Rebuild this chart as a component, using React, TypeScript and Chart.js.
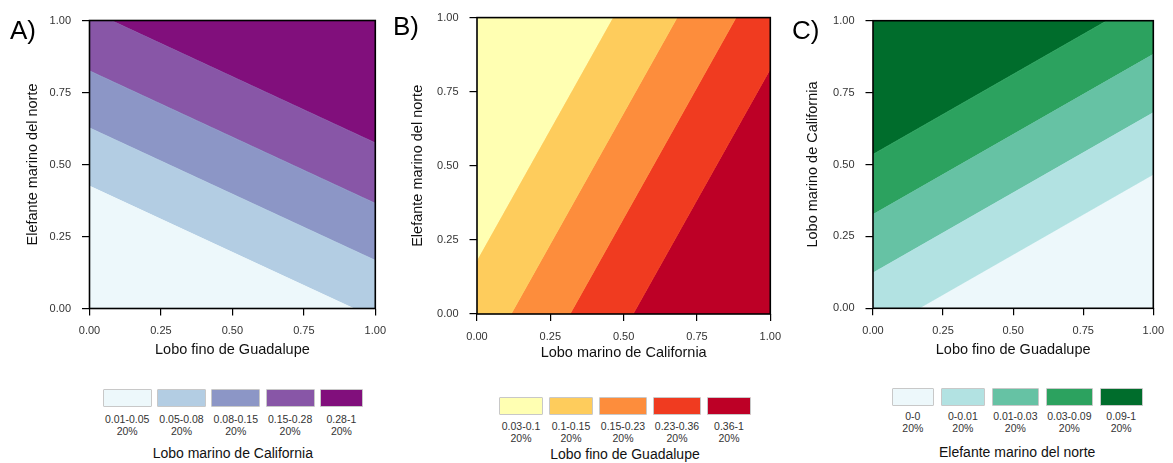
import React, { useEffect, useRef } from 'react';
import { Chart, registerables } from 'chart.js';

Chart.register(...registerables);

// ---------- shared axis ticks ----------
const tickValues = [0, 0.25, 0.5, 0.75, 1];
const tickLabels = ['0.00', '0.25', '0.50', '0.75', '1.00'];

// ---------- Panel A ----------
const aLetter = 'A)';
const aXTitle = 'Lobo fino de Guadalupe';
const aYTitle = 'Elefante marino del norte';
const aLegendTitle = 'Lobo marino de California';
const aClassLabels = ['0.01-0.05', '0.05-0.08', '0.08-0.15', '0.15-0.28', '0.28-1'];
const aClassShares = ['20%', '20%', '20%', '20%', '20%'];
const aColors = ['#edf8fb', '#b3cde3', '#8c96c6', '#8856a7', '#810f7c'];
// contour field g = gx*x + gy*y, class boundaries at these g levels
const aField = [0.46, 1];
const aBreaks = [0.425, 0.627, 0.825, 1.035];

// ---------- Panel B ----------
const bLetter = 'B)';
const bXTitle = 'Lobo marino de California';
const bYTitle = 'Elefante marino del norte';
const bLegendTitle = 'Lobo fino de Guadalupe';
const bClassLabels = ['0.03-0.1', '0.1-0.15', '0.15-0.23', '0.23-0.36', '0.36-1'];
const bClassShares = ['20%', '20%', '20%', '20%', '20%'];
const bColors = ['#ffffb2', '#fecc5c', '#fd8d3c', '#f03b20', '#bd0026'];
const bField = [1, -0.566];
const bBreaks = [-0.102, 0.116, 0.317, 0.532];

// ---------- Panel C ----------
const cLetter = 'C)';
const cXTitle = 'Lobo fino de Guadalupe';
const cYTitle = 'Lobo marino de California';
const cLegendTitle = 'Elefante marino del norte';
const cClassLabels = ['0-0', '0-0.01', '0.01-0.03', '0.03-0.09', '0.09-1'];
const cClassShares = ['20%', '20%', '20%', '20%', '20%'];
const cColors = ['#edf8fb', '#b2e2e2', '#66c2a4', '#2ca25f', '#006d2c'];
const cField = [-0.557, 1];
const cBreaks = [-0.093, 0.123, 0.326, 0.535];

const FONT = "'Liberation Sans', Arial, Helvetica, sans-serif";

type Pt = { x: number; y: number };

function clipHalf(poly: Pt[], gx: number, gy: number, level: number, keepAbove: boolean): Pt[] {
  const out: Pt[] = [];
  const sgn = keepAbove ? 1 : -1;
  const f = (p: Pt) => (gx * p.x + gy * p.y - level) * sgn;
  for (let i = 0; i < poly.length; i++) {
    const a = poly[i];
    const b = poly[(i + 1) % poly.length];
    const fa = f(a);
    const fb = f(b);
    if (fa >= 0) out.push(a);
    if ((fa >= 0) !== (fb >= 0)) {
      const t = fa / (fa - fb);
      out.push({ x: a.x + t * (b.x - a.x), y: a.y + t * (b.y - a.y) });
    }
  }
  return out;
}

function bandPolygons(field: number[], breaks: number[], n: number): Pt[][] {
  const square: Pt[] = [
    { x: 0, y: 0 },
    { x: 1, y: 0 },
    { x: 1, y: 1 },
    { x: 0, y: 1 },
  ];
  const polys: Pt[][] = [];
  for (let i = 0; i < n; i++) {
    let p = square;
    if (i > 0) p = clipHalf(p, field[0], field[1], breaks[i - 1], true);
    if (i < n - 1) p = clipHalf(p, field[0], field[1], breaks[i], false);
    polys.push(p);
  }
  return polys;
}

const boxPlugin = {
  id: 'plotBox',
  afterDatasetsDraw(chart: any) {
    const { ctx, chartArea } = chart;
    const { left, top, right, bottom } = chartArea;
    ctx.save();
    ctx.strokeStyle = '#000';
    ctx.lineWidth = 1.6;
    ctx.strokeRect(left, top, right - left, bottom - top);
    ctx.restore();
  },
};

type Layout = {
  canvas: { left: number; top: number; w: number; h: number };
  area: { left: number; top: number; right: number; bottom: number };
  yTitleX: number;
  xTitleY: number;
  letter: { left: number; top: number };
  legend: { left: number; top: number; widths: number[]; gap: number; row1: number; title: number };
};

type PanelData = {
  letter: string;
  xTitle: string;
  yTitle: string;
  legendTitle: string;
  classLabels: string[];
  classShares: string[];
  colors: string[];
  field: number[];
  breaks: number[];
};

const layouts: Layout[] = [
  {
    canvas: { left: 0, top: 0, w: 395, h: 372 },
    area: { left: 89.5, top: 20.5, right: 378, bottom: 308.5 },
    yTitleX: 33,
    xTitleY: 350,
    letter: { left: 10, top: 17 },
    legend: { left: 102.7, top: 389, widths: [49, 49, 49, 49, 43], gap: 5.3, row1: 420, title: 453 },
  },
  {
    canvas: { left: 395, top: 0, w: 395, h: 372 },
    area: { left: 477, top: 15, right: 776, bottom: 314 },
    yTitleX: 418,
    xTitleY: 353,
    letter: { left: 393, top: 13 },
    legend: { left: 499, top: 396.7, widths: [44, 44, 48, 48, 44], gap: 6, row1: 427, title: 454 },
  },
  {
    canvas: { left: 790, top: 0, w: 383, h: 372 },
    area: { left: 873, top: 20.7, right: 1161, bottom: 308.3 },
    yTitleX: 813,
    xTitleY: 350,
    letter: { left: 792, top: 17 },
    legend: { left: 891.7, top: 388, widths: [42.3, 44.3, 47.3, 47.3, 43], gap: 6.7, row1: 417, title: 452 },
  },
];

const panels: PanelData[] = [
  { letter: aLetter, xTitle: aXTitle, yTitle: aYTitle, legendTitle: aLegendTitle, classLabels: aClassLabels, classShares: aClassShares, colors: aColors, field: aField, breaks: aBreaks },
  { letter: bLetter, xTitle: bXTitle, yTitle: bYTitle, legendTitle: bLegendTitle, classLabels: bClassLabels, classShares: bClassShares, colors: bColors, field: bField, breaks: bBreaks },
  { letter: cLetter, xTitle: cXTitle, yTitle: cYTitle, legendTitle: cLegendTitle, classLabels: cClassLabels, classShares: cClassShares, colors: cColors, field: cField, breaks: cBreaks },
];

const TICK_FONT = { family: FONT, size: 11 };
const TITLE_FONT = { family: FONT, size: 14.5 };
const TITLE_LH = 14.5 * 1.2;

function tickText(v: number) {
  const idx = tickValues.findIndex((t) => Math.abs(t - v) < 1e-9);
  return idx >= 0 ? tickLabels[idx] : '';
}

function ContourPanel({ data, layout }: { data: PanelData; layout: Layout }) {
  const ref = useRef<HTMLCanvasElement | null>(null);
  const { canvas, area } = layout;

  useEffect(() => {
    if (!ref.current) return;
    const polys = bandPolygons(data.field, data.breaks, data.colors.length);
    const yWidth = area.left - canvas.left;
    const xHeight = canvas.top + canvas.h - area.bottom;
    const padTop = area.top - canvas.top;
    const padRight = canvas.left + canvas.w - area.right;
    const yTitlePad = layout.yTitleX - canvas.left - TITLE_LH / 2;
    const xTitlePad = canvas.top + canvas.h - TITLE_LH / 2 - layout.xTitleY;

    const chart = new Chart(ref.current, {
      type: 'scatter',
      data: {
        datasets: polys.map((p, i) => ({
          data: p,
          showLine: true,
          fill: 'shape',
          backgroundColor: data.colors[i],
          borderColor: data.colors[i],
          borderWidth: 1,
          pointRadius: 0,
          pointHoverRadius: 0,
          tension: 0,
        })),
      },
      options: {
        animation: false,
        responsive: false,
        events: [],
        layout: { padding: { left: 0, top: padTop, right: padRight, bottom: 0 } },
        plugins: {
          legend: { display: false },
          tooltip: { enabled: false },
        },
        scales: {
          x: {
            type: 'linear',
            min: 0,
            max: 1,
            afterBuildTicks: (s: any) => {
              s.ticks = tickValues.map((v) => ({ value: v }));
            },
            afterFit: (s: any) => {
              s.height = xHeight;
            },
            ticks: {
              callback: (v: any) => tickText(Number(v)),
              font: TICK_FONT,
              color: '#333',
              padding: 9,
              maxRotation: 0,
              autoSkip: false,
            },
            grid: { drawOnChartArea: false, drawTicks: true, tickLength: 7, color: '#000', lineWidth: 1.2 },
            border: { display: false },
            title: {
              display: true,
              text: data.xTitle,
              font: TITLE_FONT,
              color: '#111',
              padding: { top: 0, bottom: xTitlePad },
            },
          },
          y: {
            type: 'linear',
            min: 0,
            max: 1,
            afterBuildTicks: (s: any) => {
              s.ticks = tickValues.map((v) => ({ value: v }));
            },
            afterFit: (s: any) => {
              s.width = yWidth;
            },
            ticks: {
              callback: (v: any) => tickText(Number(v)),
              font: TICK_FONT,
              color: '#333',
              padding: 11,
              autoSkip: false,
            },
            grid: { drawOnChartArea: false, drawTicks: true, tickLength: 7.5, color: '#000', lineWidth: 1.2 },
            border: { display: false },
            title: {
              display: true,
              text: data.yTitle,
              font: TITLE_FONT,
              color: '#111',
              padding: { top: yTitlePad, bottom: 0 },
            },
          },
        },
      } as any,
      plugins: [boxPlugin],
    });
    return () => chart.destroy();
  }, []);

  return (
    <canvas
      ref={ref}
      width={canvas.w}
      height={canvas.h}
      style={{ position: 'absolute', left: canvas.left, top: canvas.top, width: canvas.w, height: canvas.h }}
    />
  );
}

function Legend({ data, layout }: { data: PanelData; layout: Layout }) {
  const lg = layout.legend;
  const lefts: number[] = [];
  let x = lg.left;
  lg.widths.forEach((w) => {
    lefts.push(x);
    x += w + lg.gap;
  });
  const total = x - lg.gap - lg.left;
  return (
    <>
      {data.colors.map((c, i) => (
        <div
          key={'b' + i}
          style={{
            position: 'absolute',
            left: lefts[i],
            top: lg.top,
            width: lg.widths[i],
            height: 18,
            boxSizing: 'border-box',
            background: c,
            border: '1.5px solid #c8c8c8',
            borderRadius: 1,
          }}
        />
      ))}
      {data.classLabels.map((t, i) => (
        <div
          key={'l' + i}
          style={{
            position: 'absolute',
            left: lefts[i] + lg.widths[i] / 2 - 40,
            width: 80,
            top: lg.row1 - 6,
            textAlign: 'center',
            fontSize: 10.5,
            lineHeight: '11.7px',
            color: '#333',
            whiteSpace: 'nowrap',
          }}
        >
          {t}
          <br />
          {data.classShares[i]}
        </div>
      ))}
      <div
        style={{
          position: 'absolute',
          left: lg.left + total / 2 - 150,
          width: 300,
          top: lg.title - 8.5,
          lineHeight: '17px',
          textAlign: 'center',
          fontSize: 14,
          color: '#111',
          whiteSpace: 'nowrap',
        }}
      >
        {data.legendTitle}
      </div>
    </>
  );
}

export default function App() {
  return (
    <div
      style={{
        position: 'absolute',
        left: 0,
        top: 0,
        width: 1173,
        height: 463,
        background: '#fff',
        fontFamily: FONT,
        overflow: 'hidden',
      }}
    >
      {panels.map((p, i) => (
        <React.Fragment key={i}>
          <ContourPanel data={p} layout={layouts[i]} />
          <div
            style={{
              position: 'absolute',
              left: layouts[i].letter.left,
              top: layouts[i].letter.top,
              fontSize: 26,
              lineHeight: '26px',
              color: '#000',
            }}
          >
            {p.letter}
          </div>
          <Legend data={p} layout={layouts[i]} />
        </React.Fragment>
      ))}
    </div>
  );
}
